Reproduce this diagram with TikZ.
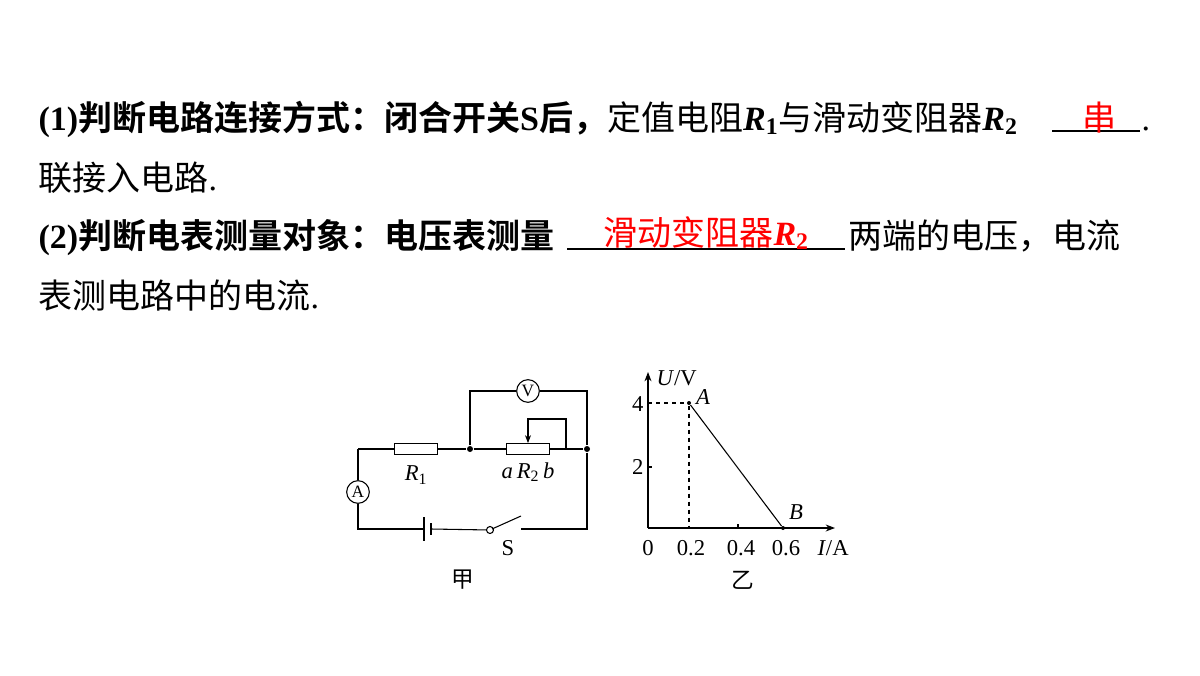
\documentclass[tikz,border=0pt]{standalone}
\usepackage{fontspec}
\setmainfont{Liberation Serif}
\newfontfamily\cjk{Noto Sans CJK SC}
\newfontfamily\cjkb{Noto Sans CJK SC Bold}
\usetikzlibrary{arrows.meta}
\tikzset{
  txt/.style={anchor=base west, inner sep=0pt, font=\fontsize{25.5}{30}\selectfont},
  lbl/.style={inner sep=0pt, font=\fontsize{17}{20}\selectfont},
  meter/.style={circle, draw, minimum size=17pt, inner sep=0pt, font=\fontsize{13}{15}\selectfont},
  res/.style={draw, fill=white, minimum width=32pt, minimum height=8pt, inner sep=0pt},
  dot/.style={circle, fill, inner sep=0pt, minimum size=4.5pt}
}
\begin{document}
\begin{tikzpicture}[x=0.75pt, y=-0.75pt, line width=0.8pt]
\useasboundingbox (0,0) rectangle (1200,675);
%text lines
\node[txt] (l1) at (38,130) {\textbf{(1)}{\cjkb 判断电路连接方式：闭合开关}\textbf{S}{\cjkb 后，}{\cjk 定值电阻}\textbf{\textit{R}\textsubscript{1}}{\cjk 与滑动变阻器}\textbf{\textit{R}\textsubscript{2}}};
\draw (1052,131) -- (1140,131);
\node[txt, text=red] (ans1) at (1082,130) {\cjk 串};
\node[txt] (dot1) at (1141,130) {.};
\node[txt] (l2) at (38,190) {{\cjk 联接入电路}.};
\node[txt] (l3) at (38,248) {\textbf{(2)}{\cjkb 判断电表测量对象：电压表测量}};
\draw (567,249) -- (845,249);
\node[txt, text=red] (ans2) at (603,245) {{\cjk 滑动变阻器}\textbf{\textit{R}\textsubscript{2}}};
\node[txt] (l3b) at (848,248) {\cjk 两端的电压，电流};
\node[txt] (l4) at (38,308) {{\cjk 表测电路中的电流}.};
%circuit
\coordinate (tl) at (358,449);
\coordinate (bl) at (358,529);
\coordinate (br) at (587,529);
\node[dot] (j1) at (470,449) {};
\node[dot] (j2) at (587,449) {};
\node[res] (r1) at (416,449) {};
\node[res] (r2) at (528,449) {};
\node[meter] (vm) at (528,391) {V};
\node[meter] (am) at (358,492) {A};
\coordinate (s1) at (490,530);
\coordinate (s2) at (521,516);
\coordinate (bat1) at (424,529);
\coordinate (bat2) at (431,529);
\draw (j1) -- (r2.west) (r2.east) -- (j2);
\draw (tl) -- (r1.west) (r1.east) -- (j1);
\draw (tl) -- (am.north) (am.south) -- (bl) -- (bat1);
\draw (bat2) -- (s1);
\draw (j1) |- (vm.west) (vm.east) -| (j2) -- (br) -- (521,529);
\draw[-{Stealth[length=6pt]}] (j2) -- (566,449) |- (528,419) -- (r2.north);
\draw (424,517) -- (424,541);
\draw[line width=2.2pt] (431,523) -- (431,535);
\draw[fill=white] (s1) circle (3.5);
\draw (492,529) -- (s2);
\node[lbl] (lr1) at (416,475) {\textit{R}\textsubscript{1}};
\node[lbl] (lr2) at (528,472) {\textit{a}\,\textit{R}\textsubscript{2}\,\textit{b}};
\node[lbl] (ls) at (508,548) {S};
\node[lbl] (jia) at (463,580) {\cjk 甲};
%graph
\coordinate (o) at (648,528);
\coordinate (ya) at (648,372);
\coordinate (xa) at (835,528);
\draw[-{Stealth[length=7pt]}] (o) -- (ya);
\draw[-{Stealth[length=7pt]}] (o) -- (xa);
\node[dot, minimum size=3pt] (pa) at (689,403) {};
\node[dot, minimum size=3pt] (pb) at (783,528) {};
\draw (pa) -- (pb);
\draw[dashed] (648,403) -- (pa) -- (689,528);
\draw (648,467) -- (652,467) (738,528) -- (738,524);
\node[lbl, anchor=east] (y4) at (644,404) {4};
\node[lbl, anchor=east] (y2) at (644,467) {2};
\node[lbl] (x0) at (648,548) {0};
\node[lbl] (x2) at (691,548) {0.2};
\node[lbl] (x4) at (741,548) {0.4};
\node[lbl] (x6) at (786,548) {0.6};
\node[lbl, anchor=west] (xl) at (817,548) {\textit{I}/A};
\node[lbl, anchor=west] (yl) at (656,378) {\textit{U}/V};
\node[lbl] (la) at (703,397) {\textit{A}};
\node[lbl] (lb) at (796,512) {\textit{B}};
\node[lbl] (yi) at (743,580) {\cjk 乙};
\end{tikzpicture}
\end{document}
